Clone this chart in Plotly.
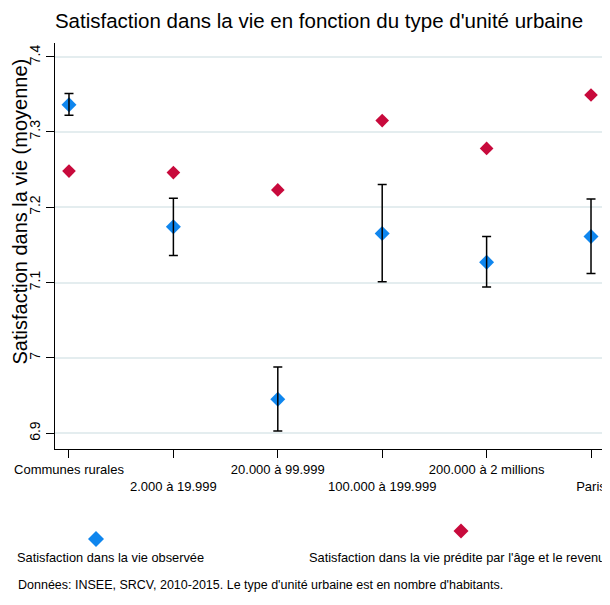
import plotly.graph_objects as go

categories = ["Communes rurales", "2.000 à 19.999", "20.000 à 99.999",
              "100.000 à 199.999", "200.000 à 2 millions", "Paris"]
observed = [7.336, 7.174, 6.945, 7.165, 7.127, 7.161]
ci_low = [7.322, 7.136, 6.903, 7.101, 7.094, 7.112]
ci_high = [7.351, 7.212, 6.988, 7.230, 7.161, 7.211]
predicted = [7.248, 7.246, 7.223, 7.315, 7.278, 7.349]
y_ticks = [6.9, 7.0, 7.1, 7.2, 7.3, 7.4]
y_ticklabels = ["6.9", "7", "7.1", "7.2", "7.3", "7.4"]

BLUE = "#0f86ee"
RED = "#c80a3c"
FONT = "Liberation Sans, Arial, sans-serif"

x = list(range(len(categories)))
err_plus = [h - o for h, o in zip(ci_high, observed)]
err_minus = [o - l for o, l in zip(observed, ci_low)]
ticktext = [c if i % 2 == 0 else "<br>" + c for i, c in enumerate(categories)]

fig = go.Figure()
fig.add_trace(go.Scatter(
    x=x, y=predicted, mode="markers", name="Satisfaction dans la vie prédite par l'âge et le revenu",
    marker=dict(symbol="diamond", size=10.5, color=RED), showlegend=False))
fig.add_trace(go.Scatter(
    x=x, y=observed, mode="markers", name="Satisfaction dans la vie observée",
    marker=dict(symbol="diamond", size=11.5, color=BLUE), showlegend=False))
# error bars drawn on top of the observed markers
fig.add_trace(go.Scatter(
    x=x, y=observed, mode="markers", marker=dict(size=1, opacity=0),
    error_y=dict(type="data", symmetric=False, array=err_plus, arrayminus=err_minus,
                 color="black", thickness=1.5, width=4.5),
    showlegend=False, hoverinfo="skip"))

OFF = 8  # page body margin
W, H = 610 - OFF, 605 - OFF
# plot area in screenshot pixels: x 55..605, y 43..449
L, R, T, B = 55 - OFF, W - (605 - OFF), 43 - OFF, H - (449 - OFF)
pw, ph = W - L - R, H - T - B

def px(xs):
    return (xs - OFF - L) / pw

def py(ys):
    return (H - B - (ys - OFF)) / ph

def diamond(cx, cy, r, color):
    return dict(type="path", xref="paper", yref="paper", xsizemode="pixel", ysizemode="pixel",
                xanchor=px(cx), yanchor=py(cy),
                path=f"M 0 {r} L {r} 0 L 0 {-r} L {-r} 0 Z",
                fillcolor=color, line=dict(width=0))

fig.update_layout(
    width=W, height=H,
    margin=dict(l=L, r=R, t=T, b=B, autoexpand=False),
    paper_bgcolor="white", plot_bgcolor="white",
    font=dict(family=FONT, color="black"),
    title=dict(text="Satisfaction dans la vie en fonction du type d'unité urbaine",
               x=(319 - OFF) / W, xanchor="center", y=1 - (21 - OFF) / H, yanchor="middle",
               font=dict(size=20.5, family=FONT, color="black")),
    xaxis=dict(range=[-0.134, 5.134], tickvals=x, ticktext=ticktext, tickangle=0, automargin=False,
               showgrid=False, zeroline=False, showline=True, linecolor="black", linewidth=1.3,
               ticks="outside", ticklen=8, tickwidth=1.3, tickcolor="black",
               tickfont=dict(size=13, family=FONT, color="black")),
    yaxis=dict(range=[6.879, 7.418], tickvals=y_ticks, ticktext=y_ticklabels, automargin=False,
               showgrid=True, gridcolor="#e4edef", gridwidth=1.5, zeroline=False,
               showline=True, linecolor="black", linewidth=1.3,
               ticks="outside", ticklen=8, tickwidth=1.3, tickcolor="black", tickangle=-90,
               tickfont=dict(size=14, family=FONT, color="black")),
    shapes=[diamond(96, 539, 8, BLUE), diamond(461, 531, 7.5, RED)],
    annotations=[
        dict(text="Satisfaction dans la vie (moyenne)", textangle=-90, xref="paper", yref="paper",
             x=px(19.5), y=py(212), xanchor="center", yanchor="middle", showarrow=False,
             font=dict(size=20, family=FONT, color="black")),
        dict(text="Satisfaction dans la vie observée", xref="paper", yref="paper",
             x=px(110), y=py(557), xanchor="center", yanchor="middle", showarrow=False,
             font=dict(size=12.8, family=FONT, color="black")),
        dict(text="Satisfaction dans la vie prédite par l'âge et le revenu", xref="paper", yref="paper",
             x=px(457), y=py(557), xanchor="center", yanchor="middle", showarrow=False,
             font=dict(size=12.8, family=FONT, color="black")),
        dict(text="Données: INSEE, SRCV, 2010-2015. Le type d'unité urbaine est en nombre d'habitants.",
             xref="paper", yref="paper", x=px(16), y=py(585), xanchor="left", yanchor="middle",
             showarrow=False, font=dict(size=12.5, family=FONT, color="black")),
    ],
)

fig.write_html("out.html")
